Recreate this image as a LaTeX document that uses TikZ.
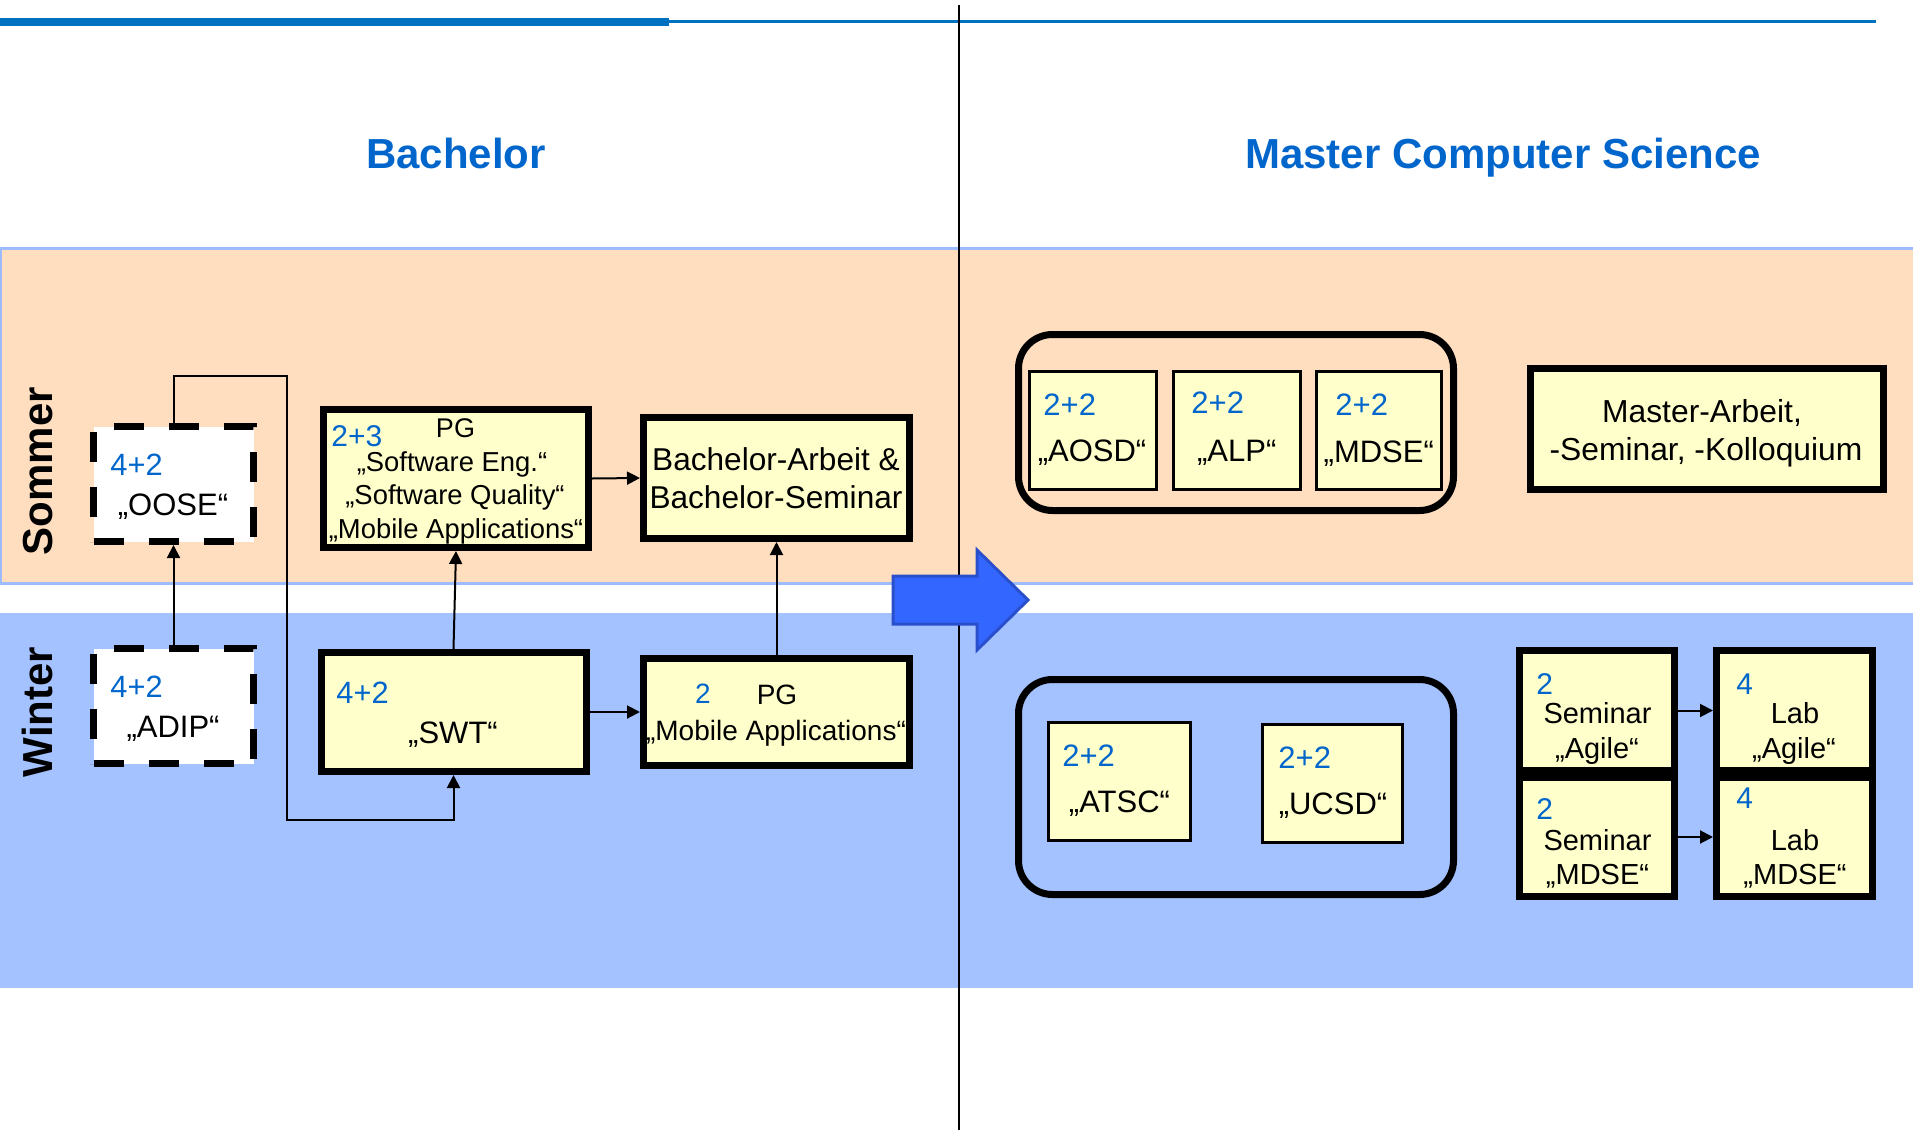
\documentclass[tikz,border=0pt]{standalone}
\usepackage{fontspec}
\setmainfont{Liberation Sans}
\usetikzlibrary{arrows.meta}

\definecolor{sommerfill}{HTML}{FFDEC0}
\definecolor{winterfill}{HTML}{A4C2FF}
\definecolor{bandline}{HTML}{9DBBFF}
\definecolor{boxyellow}{HTML}{FFFFCC}
\definecolor{numblue}{HTML}{0066CC}
\definecolor{headblue}{HTML}{0070C0}
\definecolor{arrowfill}{HTML}{3366FF}
\definecolor{arrowline}{HTML}{2A4FCC}

\newcommand\fsz[2]{\fontsize{#1}{#2}\selectfont}

\begin{document}
\begin{tikzpicture}[x=0.5pt,y=-0.5pt,
  dashbox/.style={draw, line width=3.5pt, dash pattern=on 15pt off 12.5pt, fill=white, inner sep=0pt},
  thickbox/.style={draw, line width=3.5pt, fill=boxyellow, inner sep=0pt},
  thinbox/.style={draw, line width=1.5pt, fill=boxyellow, inner sep=0pt},
  groupbox/.style={draw, line width=3.5pt, rounded corners=17pt, inner sep=0pt},
  conn/.style={line width=1pt, -{Triangle[length=6.5pt,width=6.5pt]}},
  num/.style={text=numblue, anchor=base west, inner sep=0pt},
  numc/.style={text=numblue, anchor=base, inner sep=0pt},
  lbl/.style={anchor=base, inner sep=0pt},
  headline/.style={text=numblue, anchor=base, inner sep=0pt, font=\bfseries\fsz{21}{25}},
  season/.style={anchor=base, inner sep=0pt, rotate=90, font=\bfseries\fsz{21}{25}},
]
\useasboundingbox (0,0) rectangle (1913,1130);

% semester bands
\filldraw[fill=sommerfill, draw=bandline, line width=1.5pt] (0.75,248) rectangle (1930,583);
\fill[winterfill] (0,613) rectangle (1913,988);

% header rule and column divider
\fill[headblue] (0,17.5) rectangle (669,25.5);
\fill[headblue] (669,20) rectangle (1876,23);
\draw[line width=1pt] (959,5) -- (959,1130);

% column headings
\node[headline] (hBach) at (456,168) {Bachelor};
\node[headline] (hMaster) at (1503,168) {Master Computer Science};

% semester labels
\node[season] (sSommer) at (53,471) {Sommer};
\node[season] (sWinter) at (53,712) {Winter};

% ---------------- Bachelor ----------------
\node[dashbox, minimum width=80pt, minimum height=57.5pt] (OOSE) at (173.5,484) {};
\node[dashbox, minimum width=80pt, minimum height=57.5pt] (ADIP) at (173.5,706) {};
\node[thickbox, minimum width=132.5pt, minimum height=69pt] (PG) at (456,478.5) {};
\node[thickbox, minimum width=132.5pt, minimum height=59.5pt] (SWT) at (453.5,712) {};
\node[thickbox, minimum width=133pt, minimum height=60.5pt] (BA) at (776.5,478) {};
\node[thickbox, minimum width=133pt, minimum height=53.5pt] (PGM) at (776.5,712) {};

\node[num, font=\fsz{15.4}{18}] (nOOSE) at (110,475) {4+2};
\node[lbl, font=\fsz{15.5}{18}] (tOOSE) at (173,515) {„OOSE“};
\node[num, font=\fsz{15.4}{18}] (nADIP) at (110,697) {4+2};
\node[lbl, font=\fsz{15.5}{18}] (tADIP) at (173,737) {„ADIP“};

\node[num, font=\fsz{15}{18}] (nPG) at (331,446) {2+3};
\node[lbl, font=\fsz{13.5}{16}] (tPG) at (455.5,437) {PG};
\node[lbl, font=\fsz{13.7}{16}] (tPGa) at (452,471) {„Software Eng.“};
\node[lbl, font=\fsz{13.7}{16}] (tPGb) at (455,504) {„Software Quality“};
\node[lbl, font=\fsz{13.7}{16}] (tPGc) at (456,538) {„Mobile Applications“};

\node[num, font=\fsz{15.4}{18}] (nSWT) at (336,703) {4+2};
\node[lbl, font=\fsz{15.5}{18}] (tSWT) at (453,743) {„SWT“};

\node[lbl, font=\fsz{15.8}{19}] (tBAa) at (776,470) {Bachelor-Arbeit \&};
\node[lbl, font=\fsz{15.8}{19}] (tBAb) at (776,508) {Bachelor-Seminar};

\node[numc, font=\fsz{14}{17}] (nPGM) at (703,703) {2};
\node[lbl, font=\fsz{14}{17}] (tPGMa) at (777,704) {PG};
\node[lbl, font=\fsz{14}{17}] (tPGMb) at (776,740) {„Mobile Applications“};

% Bachelor connectors
\coordinate (bendA) at (287,376);
\coordinate (bendB) at (287,820);
\draw[conn] (ADIP.north) -- (OOSE.south);
\draw[conn] (OOSE.north) |- (bendA) -- (bendB) -| (SWT.south);
\draw[conn] (SWT.north) -- (PG.south);
\draw[conn] (PG.east) -- (BA.west);
\draw[conn] (SWT.east) -- (PGM.west);
\draw[conn] (PGM.north) -- (BA.south);

% transition arrow
\filldraw[fill=arrowfill, draw=arrowline, line width=1.5pt]
  (893,576) -- (977,576) -- (977,550) -- (1028,600) -- (977,650) -- (977,624) -- (893,624) -- cycle;

% ---------------- Master ----------------
\node[groupbox, minimum width=217.5pt, minimum height=88pt] (GS) at (1236,422.5) {};
\node[groupbox, minimum width=217.5pt, minimum height=107.5pt] (GW) at (1236,787) {};

\node[thinbox, minimum width=63.5pt, minimum height=59pt] (AOSD) at (1093,430.5) {};
\node[thinbox, minimum width=63.5pt, minimum height=59pt] (ALP) at (1237,430.5) {};
\node[thinbox, minimum width=62.5pt, minimum height=59pt] (MDSE) at (1379,430.5) {};
\node[thinbox, minimum width=71pt, minimum height=59pt] (ATSC) at (1119.5,781.5) {};
\node[thinbox, minimum width=70pt, minimum height=59pt] (UCSD) at (1332.5,783.5) {};

\node[num, font=\fsz{15.5}{18}] (nAOSD) at (1043,415) {2+2};
\node[lbl, font=\fsz{15.5}{18}] (tAOSD) at (1092,461.5) {„AOSD“};
\node[num, font=\fsz{15.5}{18}] (nALP) at (1191,413) {2+2};
\node[lbl, font=\fsz{15.5}{18}] (tALP) at (1236.7,461.5) {„ALP“};
\node[num, font=\fsz{15.5}{18}] (nMDSE) at (1335,415) {2+2};
\node[lbl, font=\fsz{15.5}{18}] (tMDSE) at (1378.8,462) {„MDSE“};
\node[num, font=\fsz{15.5}{18}] (nATSC) at (1062,766) {2+2};
\node[lbl, font=\fsz{15.5}{18}] (tATSC) at (1119.5,812.5) {„ATSC“};
\node[num, font=\fsz{15.5}{18}] (nUCSD) at (1278,768) {2+2};
\node[lbl, font=\fsz{15.5}{18}] (tUCSD) at (1333,814.5) {„UCSD“};

\node[thickbox, minimum width=176.5pt, minimum height=60.5pt] (MA) at (1707,429) {};
\node[lbl, font=\fsz{15.9}{19}] (tMAa) at (1702,422) {Master-Arbeit,};
\node[lbl, font=\fsz{15.9}{19}] (tMAb) at (1706,460) {-Seminar, -Kolloquium};

\node[thickbox, minimum width=77.5pt, minimum height=60pt] (SemA) at (1597,710.5) {};
\node[thickbox, minimum width=78pt, minimum height=60pt] (LabA) at (1794.5,710.5) {};
\node[thickbox, minimum width=77.5pt, minimum height=59.5pt] (SemM) at (1597,837) {};
\node[thickbox, minimum width=78pt, minimum height=59.5pt] (LabM) at (1794.5,837) {};

\node[num, font=\fsz{15}{18}] (nSemA) at (1536,694) {2};
\node[lbl, font=\fsz{14.5}{17}] (tSemAa) at (1597.5,723) {Seminar};
\node[lbl, font=\fsz{14.5}{17}] (tSemAb) at (1597,758) {„Agile“};
\node[num, font=\fsz{15}{18}] (nLabA) at (1736,694) {4};
\node[lbl, font=\fsz{14.5}{17}] (tLabAa) at (1795,723) {Lab};
\node[lbl, font=\fsz{14.5}{17}] (tLabAb) at (1794,758) {„Agile“};
\node[num, font=\fsz{15}{18}] (nSemM) at (1536,819) {2};
\node[lbl, font=\fsz{14.5}{17}] (tSemMa) at (1597.5,850) {Seminar};
\node[lbl, font=\fsz{14.5}{17}] (tSemMb) at (1597.5,884) {„MDSE“};
\node[num, font=\fsz{15}{18}] (nLabM) at (1736,808.5) {4};
\node[lbl, font=\fsz{14.5}{17}] (tLabMa) at (1795,850) {Lab};
\node[lbl, font=\fsz{14.5}{17}] (tLabMb) at (1795,884) {„MDSE“};

\draw[conn] (SemA.east) -- (LabA.west);
\draw[conn] (SemM.east) -- (LabM.west);
\end{tikzpicture}
\end{document}
